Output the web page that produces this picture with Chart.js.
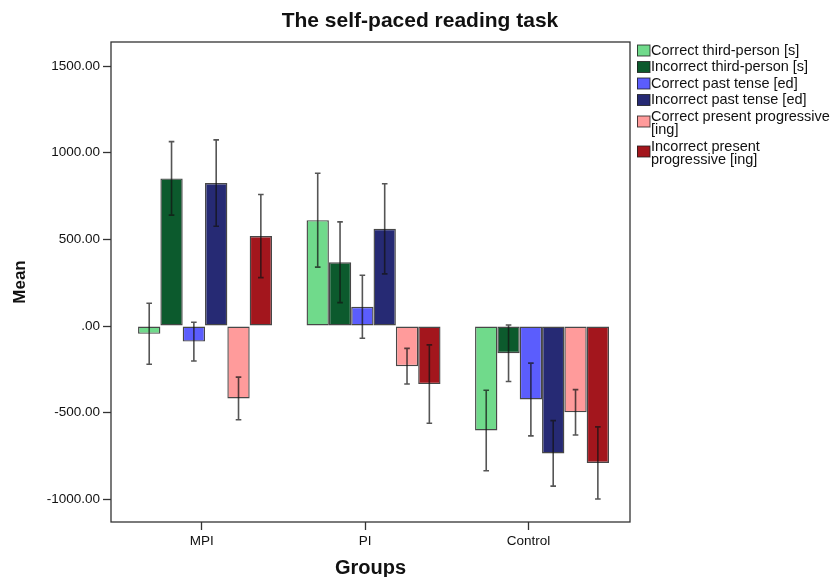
<!DOCTYPE html>
<html>
<head>
<meta charset="utf-8">
<title>The self-paced reading task</title>
<script src="https://cdn.jsdelivr.net/npm/chart.js@4.4.0/dist/chart.umd.min.js"></script>
<style>
  html, body { margin: 0; padding: 0; background: #ffffff; }
  #wrap { width: 840px; height: 577px; }
</style>
</head>
<body>
<div id="wrap"><canvas id="chart" width="840" height="577"></canvas></div>
<script>
// Groups on the x axis
const groups = ['MPI', 'PI', 'Control'];

// Series names, in legend order
const seriesNames = [
  'Correct third-person [s]',
  'Incorrect third-person [s]',
  'Correct past tense [ed]',
  'Incorrect past tense [ed]',
  'Correct present progressive [ing]',
  'Incorrect present progressive [ing]'
];

// Mean reading-time differences per group (MPI, PI, Control)
const correctThird      = [-45, 611, -603];
const incorrectThird    = [852, 368, -157];
const correctPast       = [-90, 111, -424];
const incorrectPast     = [825, 561, -735];
const correctProg       = [-418, -232, -498];
const incorrectProg     = [519, -335, -790];

// Half-widths of the error bars per group (MPI, PI, Control)
const correctThirdErr   = [176, 271, 232];
const incorrectThirdErr = [212, 233, 163];
const correctPastErr    = [112, 182, 210];
const incorrectPastErr  = [249, 260, 189];
const correctProgErr    = [123, 103, 131];
const incorrectProgErr  = [240, 226, 208];

// Y axis tick values
const yTicks = [-1000, -500, 0, 500, 1000, 1500];

const seriesValues = [correctThird, incorrectThird, correctPast, incorrectPast, correctProg, incorrectProg];
const seriesErrors = [correctThirdErr, incorrectThirdErr, correctPastErr, incorrectPastErr, correctProgErr, incorrectProgErr];
const seriesColors = ['#70da8b', '#0c5a2d', '#5b5dfd', '#262a74', '#ff9b9b', '#a3161d'];

const FONT = "'Liberation Sans', Arial, sans-serif";

const datasets = seriesValues.map((vals, s) => ({
  label: seriesNames[s],
  data: vals.map((v, i) => ({ x: i, y: v })),
  errors: seriesErrors[s],
  backgroundColor: seriesColors[s],
  borderColor: 'rgba(25,25,25,0.8)',
  borderWidth: 1.4,
  borderSkipped: false,
  xAxisID: 'x',
  yAxisID: 'y'
}));

// Error bars with small caps
const errorBars = {
  id: 'errorBars',
  afterDatasetsDraw(chart) {
    const { ctx } = chart;
    const y = chart.scales.y;
    ctx.save();
    ctx.strokeStyle = 'rgba(20,20,20,0.72)';
    ctx.lineWidth = 1.6;
    chart.data.datasets.forEach((ds, di) => {
      const meta = chart.getDatasetMeta(di);
      meta.data.forEach((bar, i) => {
        const v = ds.data[i].y, e = ds.errors[i];
        const top = y.getPixelForValue(v + e);
        const bot = y.getPixelForValue(v - e);
        const x = bar.x;
        ctx.beginPath();
        ctx.moveTo(x, top); ctx.lineTo(x, bot);
        ctx.moveTo(x - 2.8, top); ctx.lineTo(x + 2.8, top);
        ctx.moveTo(x - 2.8, bot); ctx.lineTo(x + 2.8, bot);
        ctx.stroke();
      });
    });
    ctx.restore();
  }
};

// Plot frame, title and the legend at the right
const decorations = {
  id: 'decorations',
  afterDraw(chart) {
    const { ctx, chartArea: a } = chart;
    ctx.save();
    ctx.strokeStyle = '#333333';
    ctx.lineWidth = 1.3;
    ctx.strokeRect(a.left, a.top, a.right - a.left, a.bottom - a.top);

    ctx.fillStyle = '#111111';
    ctx.font = 'bold 21px ' + FONT;
    ctx.textAlign = 'center';
    ctx.textBaseline = 'middle';
    ctx.fillText('The self-paced reading task', chart.width / 2, 21);

    // legend
    ctx.font = '14.5px ' + FONT;
    ctx.textAlign = 'left';
    const wrapWidth = 183;
    const lineH = 13.5;
    let yPos = 50.5;
    chart.data.datasets.forEach((ds) => {
      const words = ds.label.split(' ');
      const lines = [];
      let cur = '';
      words.forEach(w => {
        const test = cur ? cur + ' ' + w : w;
        if (ctx.measureText(test).width > wrapWidth && cur) { lines.push(cur); cur = w; }
        else cur = test;
      });
      lines.push(cur);
      const swY = lines.length > 1 ? yPos + 5 : yPos;
      ctx.fillStyle = ds.backgroundColor;
      ctx.fillRect(637, swY - 5.5, 13, 11);
      ctx.strokeStyle = 'rgba(30,30,30,0.8)';
      ctx.lineWidth = 1;
      ctx.strokeRect(637.5, swY - 5.5, 12.5, 11);
      ctx.fillStyle = '#111111';
      lines.forEach((ln, k) => ctx.fillText(ln, 651, yPos + k * lineH));
      yPos += 16.5 + (lines.length - 1) * lineH;
    });
    ctx.restore();
  }
};

new Chart(document.getElementById('chart'), {
  type: 'bar',
  data: { datasets },
  options: {
    responsive: false,
    devicePixelRatio: 1,
    animation: false,
    layout: { padding: { left: 0, right: 210, top: 42, bottom: 0 } },
    plugins: {
      legend: { display: false },
      title: { display: false },
      tooltip: { enabled: false }
    },
    datasets: { bar: { categoryPercentage: 0.795, barPercentage: 1.0, grouped: true } },
    scales: {
      x: {
        type: 'linear',
        display: false,
        min: -0.558,
        max: 2.522,
        offset: false,
        grid: { offset: false },
        afterBuildTicks(scale) { scale.ticks = groups.map((g, i) => ({ value: i })); }
      },
      xt: {
        type: 'linear',
        position: 'bottom',
        min: -0.555,
        max: 2.621,
        offset: false,
        afterBuildTicks(scale) { scale.ticks = groups.map((g, i) => ({ value: i })); },
        afterFit(scale) { scale.height = 55; },
        ticks: {
          callback: (v) => groups[v] ?? '',
          font: { family: FONT, size: 13.5 },
          color: '#111111',
          padding: 3,
          maxRotation: 0,
          autoSkip: false
        },
        grid: { display: true, offset: false, drawOnChartArea: false, tickLength: 8, tickColor: '#333333', tickWidth: 1.3 },
        border: { display: false },
        title: {
          display: true,
          text: 'Groups',
          font: { family: FONT, size: 20, weight: 'bold' },
          color: '#111111',
          padding: { top: 0, bottom: -3 }
        }
      },
      y: {
        type: 'linear',
        min: -1131,
        max: 1639,
        afterBuildTicks(scale) { scale.ticks = yTicks.map(v => ({ value: v })); },
        afterFit(scale) { scale.width = 111; },
        ticks: {
          callback: (v) => v === 0 ? '.00' : v.toFixed(2),
          font: { family: FONT, size: 13.5 },
          color: '#111111',
          padding: 3
        },
        grid: { display: true, drawOnChartArea: false, tickLength: 8, tickColor: '#333333', tickWidth: 1.3 },
        border: { display: false },
        title: {
          display: true,
          text: 'Mean',
          font: { family: FONT, size: 17, weight: 'bold' },
          color: '#111111',
          padding: { top: 10, bottom: 0 }
        }
      }
    }
  },
  plugins: [errorBars, decorations]
});
</script>
</body>
</html>
